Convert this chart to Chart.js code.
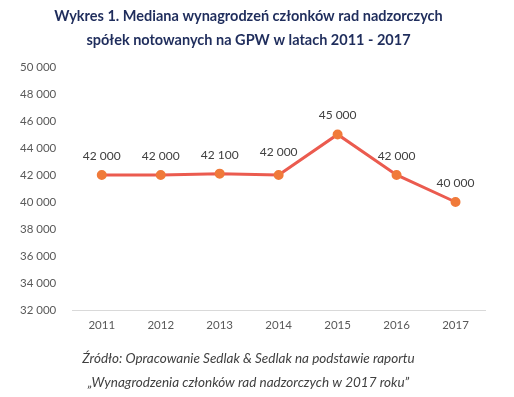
<!DOCTYPE html>
<html>
<head>
<meta charset="utf-8">
<script src="https://cdn.jsdelivr.net/npm/chart.js@4"></script>
<style>
  html, body { margin: 0; padding: 0; background: #fff; }
  #wrap { width: 514px; height: 397px; }
</style>
</head>
<body>
<div id="wrap"><canvas id="lineChart" width="514" height="397"></canvas></div>
<script>
// Lata i mediana wynagrodzeń
const years = ['2011', '2012', '2013', '2014', '2015', '2016', '2017'];
const medianPay = [42000, 42000, 42100, 42000, 45000, 42000, 40000];
const titleLines = ['Wykres 1. Mediana wynagrodzeń członków rad nadzorczych', 'spółek notowanych na GPW w latach 2011 - 2017'];
const sourceLines = ['Źródło: Opracowanie Sedlak & Sedlak na podstawie raportu', '„Wynagrodzenia członków rad nadzorczych w 2017 roku”'];

// Format z odstępem jako separatorem tysięcy
function fmt(v) {
    return String(v).replace(/\B(?=(\d{3})+(?!\d))/g, ' ');
}

// Etykiety wartości nad punktami
const valueLabels = {
    id: 'valueLabels',
    afterDatasetsDraw(chart) {
        const ctx = chart.ctx;
        const meta = chart.getDatasetMeta(0);
        ctx.save();
        ctx.font = '12px Lato';
        ctx.fillStyle = '#404040';
        ctx.textAlign = 'center';
        ctx.textBaseline = 'middle';
        meta.data.forEach((pt, i) => {
            const extra = i === 3 ? 4 : 0;
            ctx.fillText(fmt(medianPay[i]), pt.x, pt.y - 19 - extra);
        });
        ctx.restore();
    }
};

new Chart(document.getElementById('lineChart'), {
    type: 'line',
    data: {
        labels: years,
        datasets: [{
            data: medianPay,
            borderColor: '#EB5B4F',
            borderWidth: 3,
            pointBackgroundColor: '#F07A3A',
            pointBorderColor: '#F07A3A',
            pointRadius: 3.5,
            tension: 0
        }]
    },
    options: {
        responsive: false,
        animation: false,
        layout: { padding: { left: 12, right: 29, top: 0, bottom: 2 } },
        plugins: {
            legend: { display: false },
            tooltip: { enabled: false },
            title: {
                display: true,
                text: titleLines,
                color: '#1F2D5C',
                font: { family: 'Lato', size: 14.5, weight: 'bold', lineHeight: 1.65 },
                padding: { top: 4, bottom: 15 }
            },
            subtitle: {
                display: true,
                position: 'bottom',
                text: sourceLines,
                color: '#404040',
                font: { family: 'Lato', size: 13.5, style: 'italic', lineHeight: 1.78 },
                padding: { top: 15, bottom: 0 }
            }
        },
        scales: {
            x: {
                offset: true,
                grid: { display: false },
                border: { display: true, color: '#D9D9D9', width: 1 },
                ticks: { color: '#595959', font: { family: 'Lato', size: 11.5 }, padding: 0 }
            },
            y: {
                min: 32000,
                max: 50000,
                grid: { display: false },
                border: { display: false },
                ticks: {
                    stepSize: 2000,
                    color: '#595959',
                    font: { family: 'Lato', size: 11.5 },
                    padding: 8,
                    callback: v => fmt(v)
                }
            }
        }
    },
    plugins: [valueLabels]
});
</script>
</body>
</html>
